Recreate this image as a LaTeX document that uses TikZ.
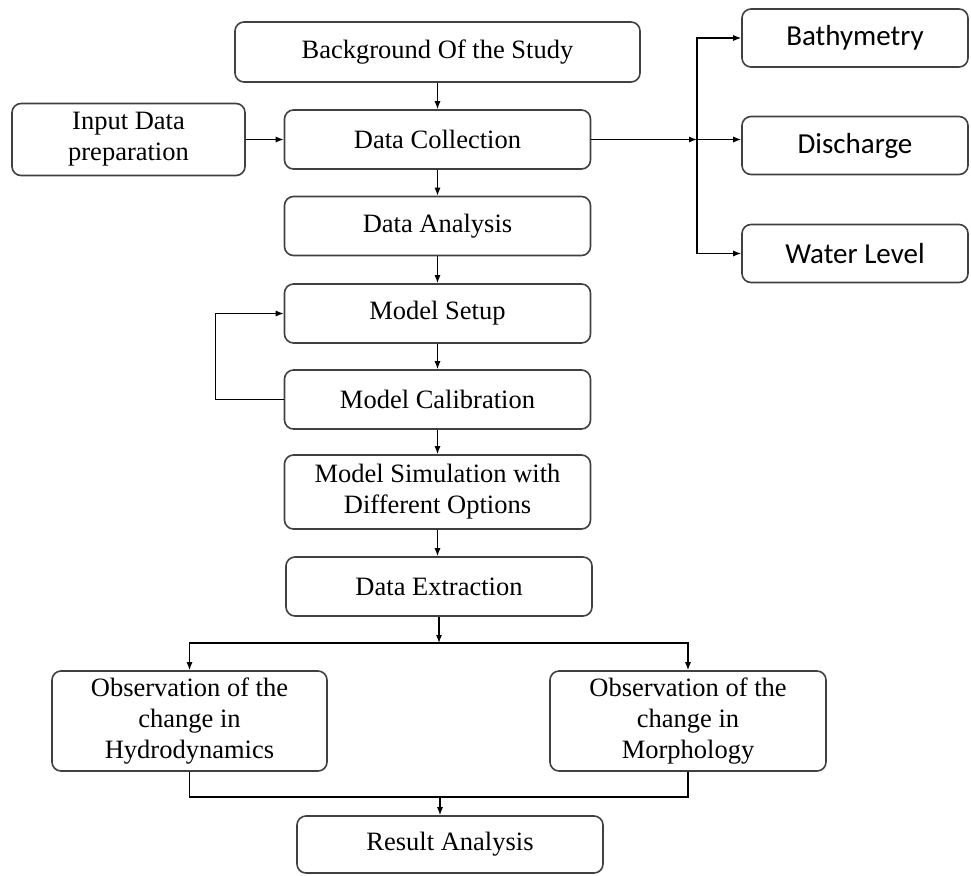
\documentclass[tikz,border=0pt]{standalone}
\usepackage{fontspec}
\setmainfont{Liberation Serif}
\newfontfamily\calfont{Carlito}
\usetikzlibrary{arrows.meta}

\begin{document}
\begin{tikzpicture}[x=1pt, y=-1pt,
    box/.style={draw=black!75, line width=1.6pt, rounded corners=9pt, align=center,
      inner sep=0pt, font=\fontsize{26.5}{31}\selectfont},
    mainbox/.style={box, minimum width=306pt, minimum height=59pt},
    sidebox/.style={box, minimum width=226pt, minimum height=58pt,
      font=\calfont\fontsize{29}{34}\selectfont},
    arr/.style={line width=1.1pt, -{Latex[length=8pt,width=6pt]}}]
    \useasboundingbox (0,0) rectangle (971,875);
    \node[box, minimum width=405pt, minimum height=60pt] (bg) at (437.5,52) {Background Of the Study};
    \node[box, minimum width=233pt, minimum height=72pt] (inp) at (128.5,139.5) {Input Data\\preparation};
    \node[mainbox] (dc) at (437.5,139.5) {Data Collection};
    \node[mainbox] (da) at (437.5,226) {Data Analysis};
    \node[mainbox] (ms) at (437.5,313.5) {Model Setup};
    \node[mainbox] (mc) at (437.5,399.5) {Model Calibration};
    \node[mainbox, minimum height=74pt] (sim) at (437.5,492) {Model Simulation with\\Different Options};
    \node[mainbox] (de) at (439,586.5) {Data Extraction};
    \node[box, minimum width=275pt, minimum height=100pt] (hy) at (189.5,721) {Observation of the\\change in\\Hydrodynamics};
    \node[box, minimum width=276pt, minimum height=100pt] (mo) at (688,721) {Observation of the\\change in\\Morphology};
    \node[mainbox, minimum height=57pt] (res) at (450,844.5) {Result Analysis};
    \node[sidebox] (bat) at (855,38) {Bathymetry};
    \node[sidebox] (dis) at (855,145.5) {Discharge};
    \node[sidebox] (wl) at (855,253.5) {Water Level};

    \coordinate (jn) at (697,139.5);
    \coordinate (sp) at (439,643);
    \coordinate (mg) at (440,797);

    \draw[arr] (bg) -- (dc);
    \draw[arr] (inp) -- (dc);
    \draw[arr] (dc) -- (da);
    \draw[arr] (da) -- (ms);
    \draw[arr] (ms) -- (mc);
    \draw[arr] (mc) -- (sim);
    \draw[arr] (sim) -- (sim.south |- de.north);
    \draw[arr] (mc.west) -- ++(-68,0) |- (ms.west);

    \draw[arr] (dc.east) -- (jn);
    \draw[arr] (jn) |- (bat.west);
    \draw[arr] (jn) -- (jn -| dis.west);
    \draw[arr] (jn) |- (wl.west);

    \draw[arr] (de) -- (sp);
    \draw[arr] (sp) -| (hy.north);
    \draw[arr] (sp) -| (mo.north);
    \draw[line width=1.1pt] (hy.south) |- (mg);
    \draw[line width=1.1pt] (mo.south) |- (mg);
    \draw[arr] (mg) -- (mg |- res.north);
\end{tikzpicture}
\end{document}
